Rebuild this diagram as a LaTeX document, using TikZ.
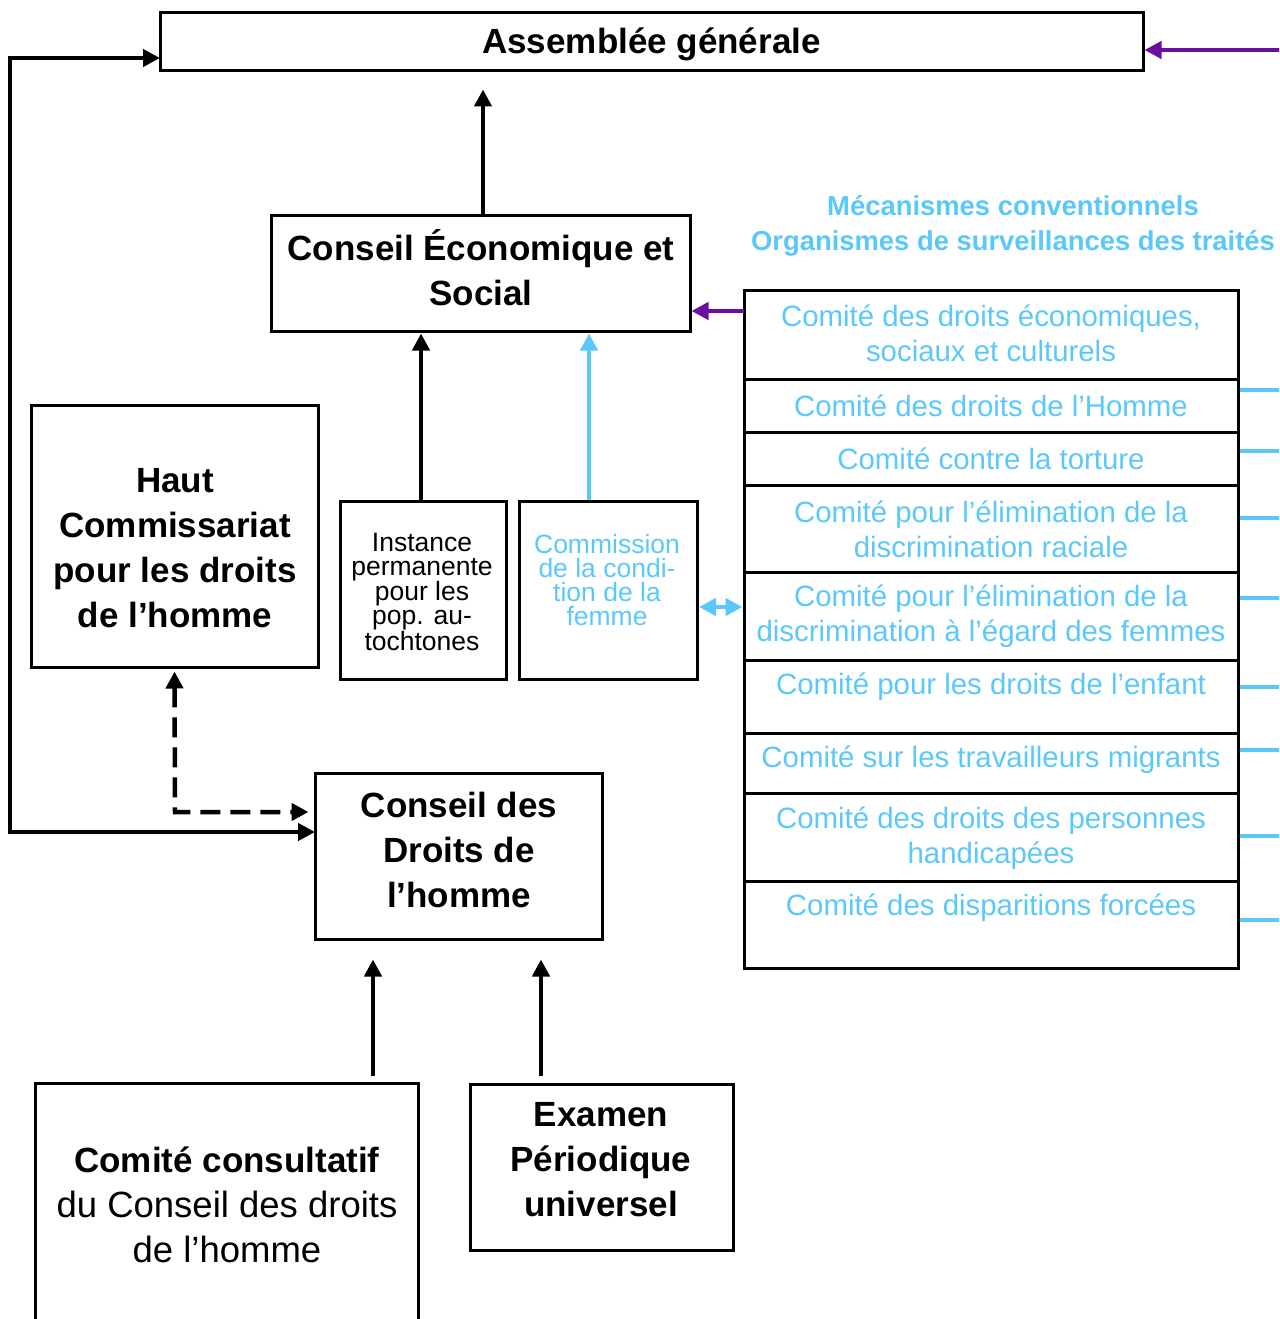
\documentclass[tikz,border=0pt]{standalone}
\usepackage{fontspec}
\setmainfont{Liberation Sans}
\usetikzlibrary{arrows.meta,calc}
\definecolor{lblue}{RGB}{91,200,250}
\definecolor{purp}{RGB}{106,13,160}
\begin{document}
\begin{tikzpicture}[x=1pt,y=-1pt,
  box/.style={draw, line width=3pt, inner sep=0pt},
  tx/.style={inner sep=0pt, align=center},
  bigb/.style={tx, font=\fontsize{35}{45}\selectfont\bfseries},
  rowt/.style={tx, text=lblue, font=\fontsize{29.4}{35}\selectfont},
  smallt/.style={tx, font=\fontsize{26.5}{24}\selectfont},
  tipo/.style={-{Triangle[length=17pt,width=17pt]}},
  tipb/.style={{Triangle[length=17pt,width=17pt]}-{Triangle[length=17pt,width=17pt]}},
  conn/.style={line width=4.5pt},
  dconn/.style={line width=4.5pt, dash pattern=on 20pt off 10pt}]
\useasboundingbox (0,0) rectangle (1279,1319);
\clip (0,0) rectangle (1279,1319);

% boxes
\node[box, minimum width=983, minimum height=58] (ag) at (651.5,42) {};
\node[box, minimum width=419, minimum height=116] (ces) at (480.5,273) {};
\node[box, minimum width=287, minimum height=262] (hc) at (174.5,536) {};
\node[box, minimum width=166, minimum height=178] (inst) at (423,590) {};
\node[box, minimum width=178, minimum height=178] (comm) at (608,590) {};
\node[box, minimum width=287, minimum height=166] (cdh) at (458.5,856) {};
\node[box, minimum width=383, minimum height=280] (cc) at (226.5,1223) {};
\node[box, minimum width=263, minimum height=166] (epu) at (601.5,1167) {};

% texts
\node[bigb] (tag) at (651.5,44) {Assemblée générale};
\node[bigb] (tces) at (481,268) {Conseil Économique et\\Social};
\node[bigb] (thc) at (175,548.5) {Haut\\Commissariat\\pour les droits\\de l’homme};
\node[smallt] (tinst) at (422,592) {Instance\\permanente\\pour les\\pop. au-\\tochtones};
\node[smallt, text=lblue] (tcomm) at (607,580) {Commission\\de la condi-\\tion de la\\femme};
\node[bigb] (tcdh) at (459,850) {Conseil des\\Droits de\\l’homme};
\node[tx, font=\fontsize{36.5}{45}\selectfont] (tcc) at (227,1205) {\textbf{\fontsize{35}{45}\selectfont Comité consultatif}\\du Conseil des droits\\de l’homme};
\node[bigb] (tepu) at (601,1160) {Examen\\Périodique\\universel};
\node[tx, text=lblue, font=\fontsize{27.4}{35}\selectfont\bfseries] (ttitle) at (1013,225.5) {Mécanismes conventionnels\\Organismes de surveillances des traités};

% stack of committees
\node[box, minimum width=494, minimum height=89] (r1) at (991,334.5) {};
\node[box, minimum width=494, minimum height=53] (r2) at (991,405.5) {};
\node[box, minimum width=494, minimum height=53] (r3) at (991,458.5) {};
\node[box, minimum width=494, minimum height=87] (r4) at (991,528.5) {};
\node[box, minimum width=494, minimum height=88] (r5) at (991,616) {};
\node[box, minimum width=494, minimum height=73] (r6) at (991,696.5) {};
\node[box, minimum width=494, minimum height=60] (r7) at (991,763) {};
\node[box, minimum width=494, minimum height=88] (r8) at (991,837) {};
\node[box, minimum width=494, minimum height=87] (r9) at (991,924.5) {};

\node[rowt] (t1) at (991,333.5) {Comité des droits économiques,\\sociaux et culturels};
\node[rowt] (t2) at (991,406) {Comité des droits de l’Homme};
\node[rowt] (t3) at (991,459) {Comité contre la torture};
\node[rowt] (t4) at (991,529) {Comité pour l’élimination de la\\discrimination raciale};
\node[rowt] (t5) at (991,616.5) {Comité pour l’élimination de la\\discrimination à l’égard des femmes};
\node[rowt] (t6) at (991,687) {Comité pour les droits de l’enfant};
\node[rowt] (t7) at (991,760) {Comité sur les travailleurs migrants};
\node[rowt] (t8) at (991,838) {Comité des droits des personnes\\handicapées};
\node[rowt] (t9) at (991,908) {Comité des disparitions forcées};

% connectors
\draw[conn, tipo, shorten >=17pt] ($(ces.north)+(2.5,0)$) coordinate (c0) -- (c0 |- ag.south);
\draw[conn, tipo, shorten >=1pt] ($(inst.north)+(-2,0)$) coordinate (c1) -- (c1 |- ces.south);
\draw[conn, tipo, lblue, shorten >=1pt] ($(comm.north)+(-19,0)$) coordinate (c2) -- (c2 |- ces.south);

\coordinate (pr) at (1285,50);
\draw[conn, tipo, purp] (pr) -- (pr -| ag.east);
\coordinate (p2) at (744,311);
\draw[conn, tipo, purp] (p2) -- (p2 -| ces.east);

\coordinate (d1) at (697,607);
\draw[conn, tipb, lblue, shorten <=2pt] (d1) -- (d1 -| r5.west);

\coordinate (a1) at (160,58);
\coordinate (a2) at (315,832);
\draw[conn, tipb] (a1) -- (10,58) -- (10,832) -- (a2);

\coordinate (dc) at (175,812);
\draw[dconn, tipb, shorten <=3pt, shorten >=5pt] (hc.south) -- (dc) -- (dc -| cdh.west);

\coordinate (e1) at (373,1083);
\draw[conn, tipo, shorten <=7pt, shorten >=19pt] (e1) -- (e1 |- cdh.south);
\coordinate (e2) at (541,1084);
\draw[conn, tipo, shorten <=8pt, shorten >=19pt] (e2) -- (e2 |- cdh.south);

% blue stubs on right
\foreach \yy [count=\i] in {390,451,518,598,687,750,836,920}{
  \coordinate (s\i) at (1240,\yy);
  \draw[conn, lblue] (s\i) -- ++(45,0);
}
\end{tikzpicture}
\end{document}
